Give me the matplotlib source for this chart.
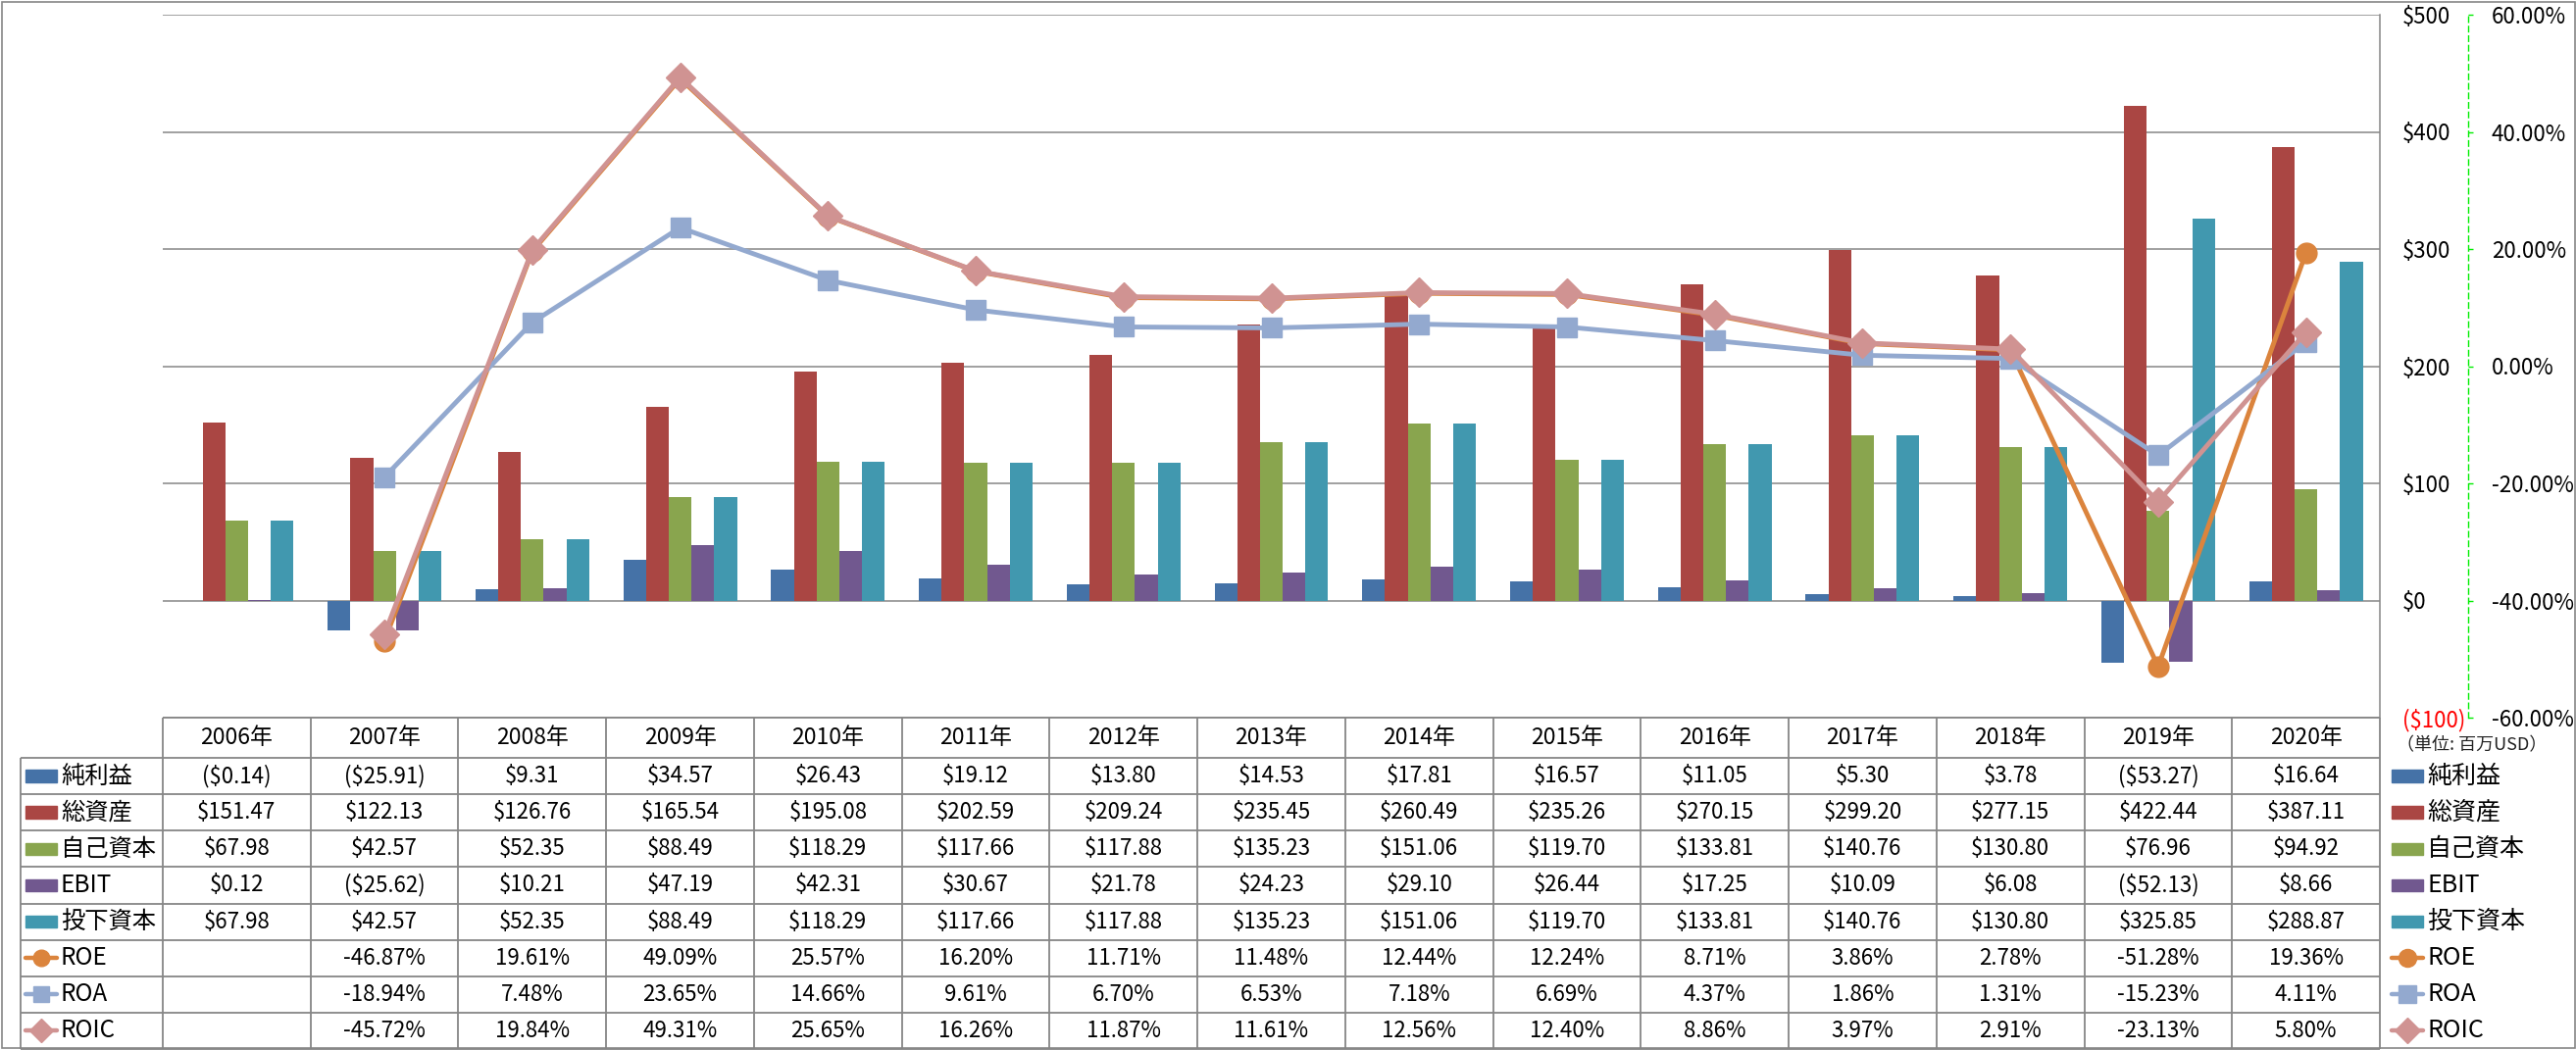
import numpy as np
import matplotlib
matplotlib.use('Agg')
import matplotlib.pyplot as plt
from matplotlib.patches import Rectangle

plt.rcParams['font.family'] = ['Noto Sans CJK JP', 'DejaVu Sans']

# data (百万USD / %)
years = ['2006年', '2007年', '2008年', '2009年', '2010年', '2011年', '2012年', '2013年',
         '2014年', '2015年', '2016年', '2017年', '2018年', '2019年', '2020年']
net_income = [-0.14, -25.91, 9.31, 34.57, 26.43, 19.12, 13.80, 14.53, 17.81, 16.57, 11.05, 5.30, 3.78, -53.27, 16.64]
total_assets = [151.47, 122.13, 126.76, 165.54, 195.08, 202.59, 209.24, 235.45, 260.49, 235.26, 270.15, 299.20, 277.15, 422.44, 387.11]
equity = [67.98, 42.57, 52.35, 88.49, 118.29, 117.66, 117.88, 135.23, 151.06, 119.70, 133.81, 140.76, 130.80, 76.96, 94.92]
ebit = [0.12, -25.62, 10.21, 47.19, 42.31, 30.67, 21.78, 24.23, 29.10, 26.44, 17.25, 10.09, 6.08, -52.13, 8.66]
invested = [67.98, 42.57, 52.35, 88.49, 118.29, 117.66, 117.88, 135.23, 151.06, 119.70, 133.81, 140.76, 130.80, 325.85, 288.87]
roe = [np.nan, -46.87, 19.61, 49.09, 25.57, 16.20, 11.71, 11.48, 12.44, 12.24, 8.71, 3.86, 2.78, -51.28, 19.36]
roa = [np.nan, -18.94, 7.48, 23.65, 14.66, 9.61, 6.70, 6.53, 7.18, 6.69, 4.37, 1.86, 1.31, -15.23, 4.11]
roic = [np.nan, -45.72, 19.84, 49.31, 25.65, 16.26, 11.87, 11.61, 12.56, 12.40, 8.86, 3.97, 2.91, -23.13, 5.80]

bar_names = ['純利益', '総資産', '自己資本', 'EBIT', '投下資本']
bar_colors = ['#4572A7', '#AA4643', '#89A54E', '#71588F', '#4198AF']
line_names = ['ROE', 'ROA', 'ROIC']
line_colors = ['#DB843D', '#93A9CF', '#D09392']
line_markers = ['o', 's', 'D']

usd_ticks = [-100, 0, 100, 200, 300, 400, 500]
pct_ticks = [-60, -40, -20, 0, 20, 40, 60]


def usd(v):
    return f'${v:.2f}' if v >= 0 else f'(${-v:.2f})'


def pct(v):
    return '' if np.isnan(v) else f'{v:.2f}%'


W, H = 2627, 1071
fig = plt.figure(figsize=(W / 100, H / 100), dpi=100)
gc = '#868686'

# plot area in pixels
L, R, T, B = 166, 2427, 15, 732
ax = fig.add_axes([L / W, 1 - B / H, (R - L) / W, (B - T) / H])
x = np.arange(len(years))
bar_data = [net_income, total_assets, equity, ebit, invested]
n = len(bar_data)
bw = 1 / (n + 1.5)
for i, (vals, c) in enumerate(zip(bar_data, bar_colors)):
    ax.bar(x + (i - (n - 1) / 2) * bw, vals, bw, color=c, zorder=2)
ax.set_xlim(-0.5, len(years) - 0.5)
ax.set_ylim(-100, 500)
ax.set_xticks([])
ax.grid(axis='y', color=gc, lw=1.1)
ax.set_axisbelow(True)

# percent axis
ax2 = ax.twinx()
line_data = [roe, roa, roic]
for vals, c, m in zip(line_data, line_colors, line_markers):
    ax2.plot(x, np.array(vals) / 100, color=c, lw=3.5, marker=m, ms=15,
             mec=c, mew=1, solid_joinstyle='round', zorder=3)
ax2.set_ylim(-0.6, 0.6)
ax2.set_yticks([v / 100 for v in pct_ticks])
ax2.set_yticklabels([f'{v:.2f}%' for v in pct_ticks])
for lab, v in zip(ax2.get_yticklabels(), pct_ticks):
    if v < 0:
        lab.set_color('red')
for s in ['top', 'left', 'bottom']:
    ax2.spines[s].set_visible(False)
ax2.spines['right'].set_position(('axes', (2517 - L) / (R - L)))
ax2.spines['right'].set_color('#00EE00')
ax2.spines['right'].set_linestyle((0, (4, 3)))
ax2.spines['right'].set_linewidth(1)
ax2.tick_params(axis='y', direction='out', length=3.6, width=1, color='#00EE00',
                pad=13.5, labelsize=16)

# dollar axis labels on the right of the plot area (after twinx)
ax.yaxis.tick_right()
ax.yaxis.set_label_position('right')
ax.set_yticks(usd_ticks)
ax.set_yticklabels([f'${v}' if v >= 0 else f'(${-v})' for v in usd_ticks])
for lab, v in zip(ax.get_yticklabels(), usd_ticks):
    if v < 0:
        lab.set_color('red')
ax.tick_params(axis='y', length=0, pad=16.5, labelsize=16)
for s in ['top', 'left', 'bottom']:
    ax.spines[s].set_visible(False)
ax.spines['right'].set_visible(True)
ax.spines['right'].set_color(gc)
ax.spines['right'].set_linewidth(1.1)

# data table
colw = (R - L) / len(years)
TL, TR, TB = 21, W, 1070
tax = fig.add_axes([TL / W, 1 - TB / H, (TR - TL) / W, (TB - B) / H])
x0 = -0.5 - (L - TL) / colw
x1 = len(years) - 0.5 + (TR - R) / colw
hdr = 41 / 37.1
nrows = len(bar_data) + len(line_data)
tax.set_xlim(x0, x1)
tax.set_ylim(hdr + nrows, 0)
tax.axis('off')

xe = np.arange(len(years) + 1) - 0.5
tax.vlines(xe, 0, hdr + nrows, color=gc, lw=1.3, clip_on=False)
tax.vlines(x0, hdr, hdr + nrows, color=gc, lw=1.3, clip_on=False)
tax.hlines(0, -0.5, len(years) - 0.5, color=gc, lw=1.3, clip_on=False)
tax.hlines(hdr + np.arange(nrows + 1), x0, len(years) - 0.5, color=gc, lw=1.3, clip_on=False)

for j, yr in enumerate(years):
    tax.text(j, hdr / 2, yr, ha='center', va='center', fontsize=16.5)

rows = [(nm, c, None, vals, usd) for nm, c, vals in zip(bar_names, bar_colors, bar_data)]
rows += [(nm, c, m, vals, pct) for nm, c, m, vals in zip(line_names, line_colors, line_markers, line_data)]


def key(xa, xb, yc, c, m, ms):
    if m is None:
        tax.add_patch(Rectangle((xa, yc - 0.17), xb - xa, 0.34, color=c, clip_on=False))
    else:
        tax.plot([xa, xb], [yc, yc], color=c, lw=3.2, clip_on=False, solid_capstyle='round')
        tax.plot([(xa + xb) / 2], [yc], marker=m, color=c, ms=ms, clip_on=False)


for i, (nm, c, m, vals, f) in enumerate(rows):
    yc = hdr + i + 0.5
    for j, v in enumerate(vals):
        tax.text(j, yc, f(v), ha='center', va='center', fontsize=16)
    # row label
    key(x0 + 5 / colw, x0 + 37 / colw, yc, c, m, 12)
    tax.text(x0 + 41 / colw, yc, nm, ha='left', va='center', fontsize=17.5)
    # legend on the right
    xr = len(years) - 0.5
    key(xr + 12 / colw, xr + 44 / colw, yc, c, m, 13)
    tax.text(xr + 48 / colw, yc, nm, ha='left', va='center', fontsize=18)

tax.text(len(years) - 0.5 + 17 / colw, 28 / 37.1, '（単位: 百万USD）', ha='left', va='center',
         fontsize=13, color='#222222')

fig.add_artist(Rectangle((1.5 / W, 2 / H), 2624.5 / W, 1067.5 / H, fill=False,
                         edgecolor=gc, lw=1.2, transform=fig.transFigure))

fig.savefig('out.png', dpi=100)
